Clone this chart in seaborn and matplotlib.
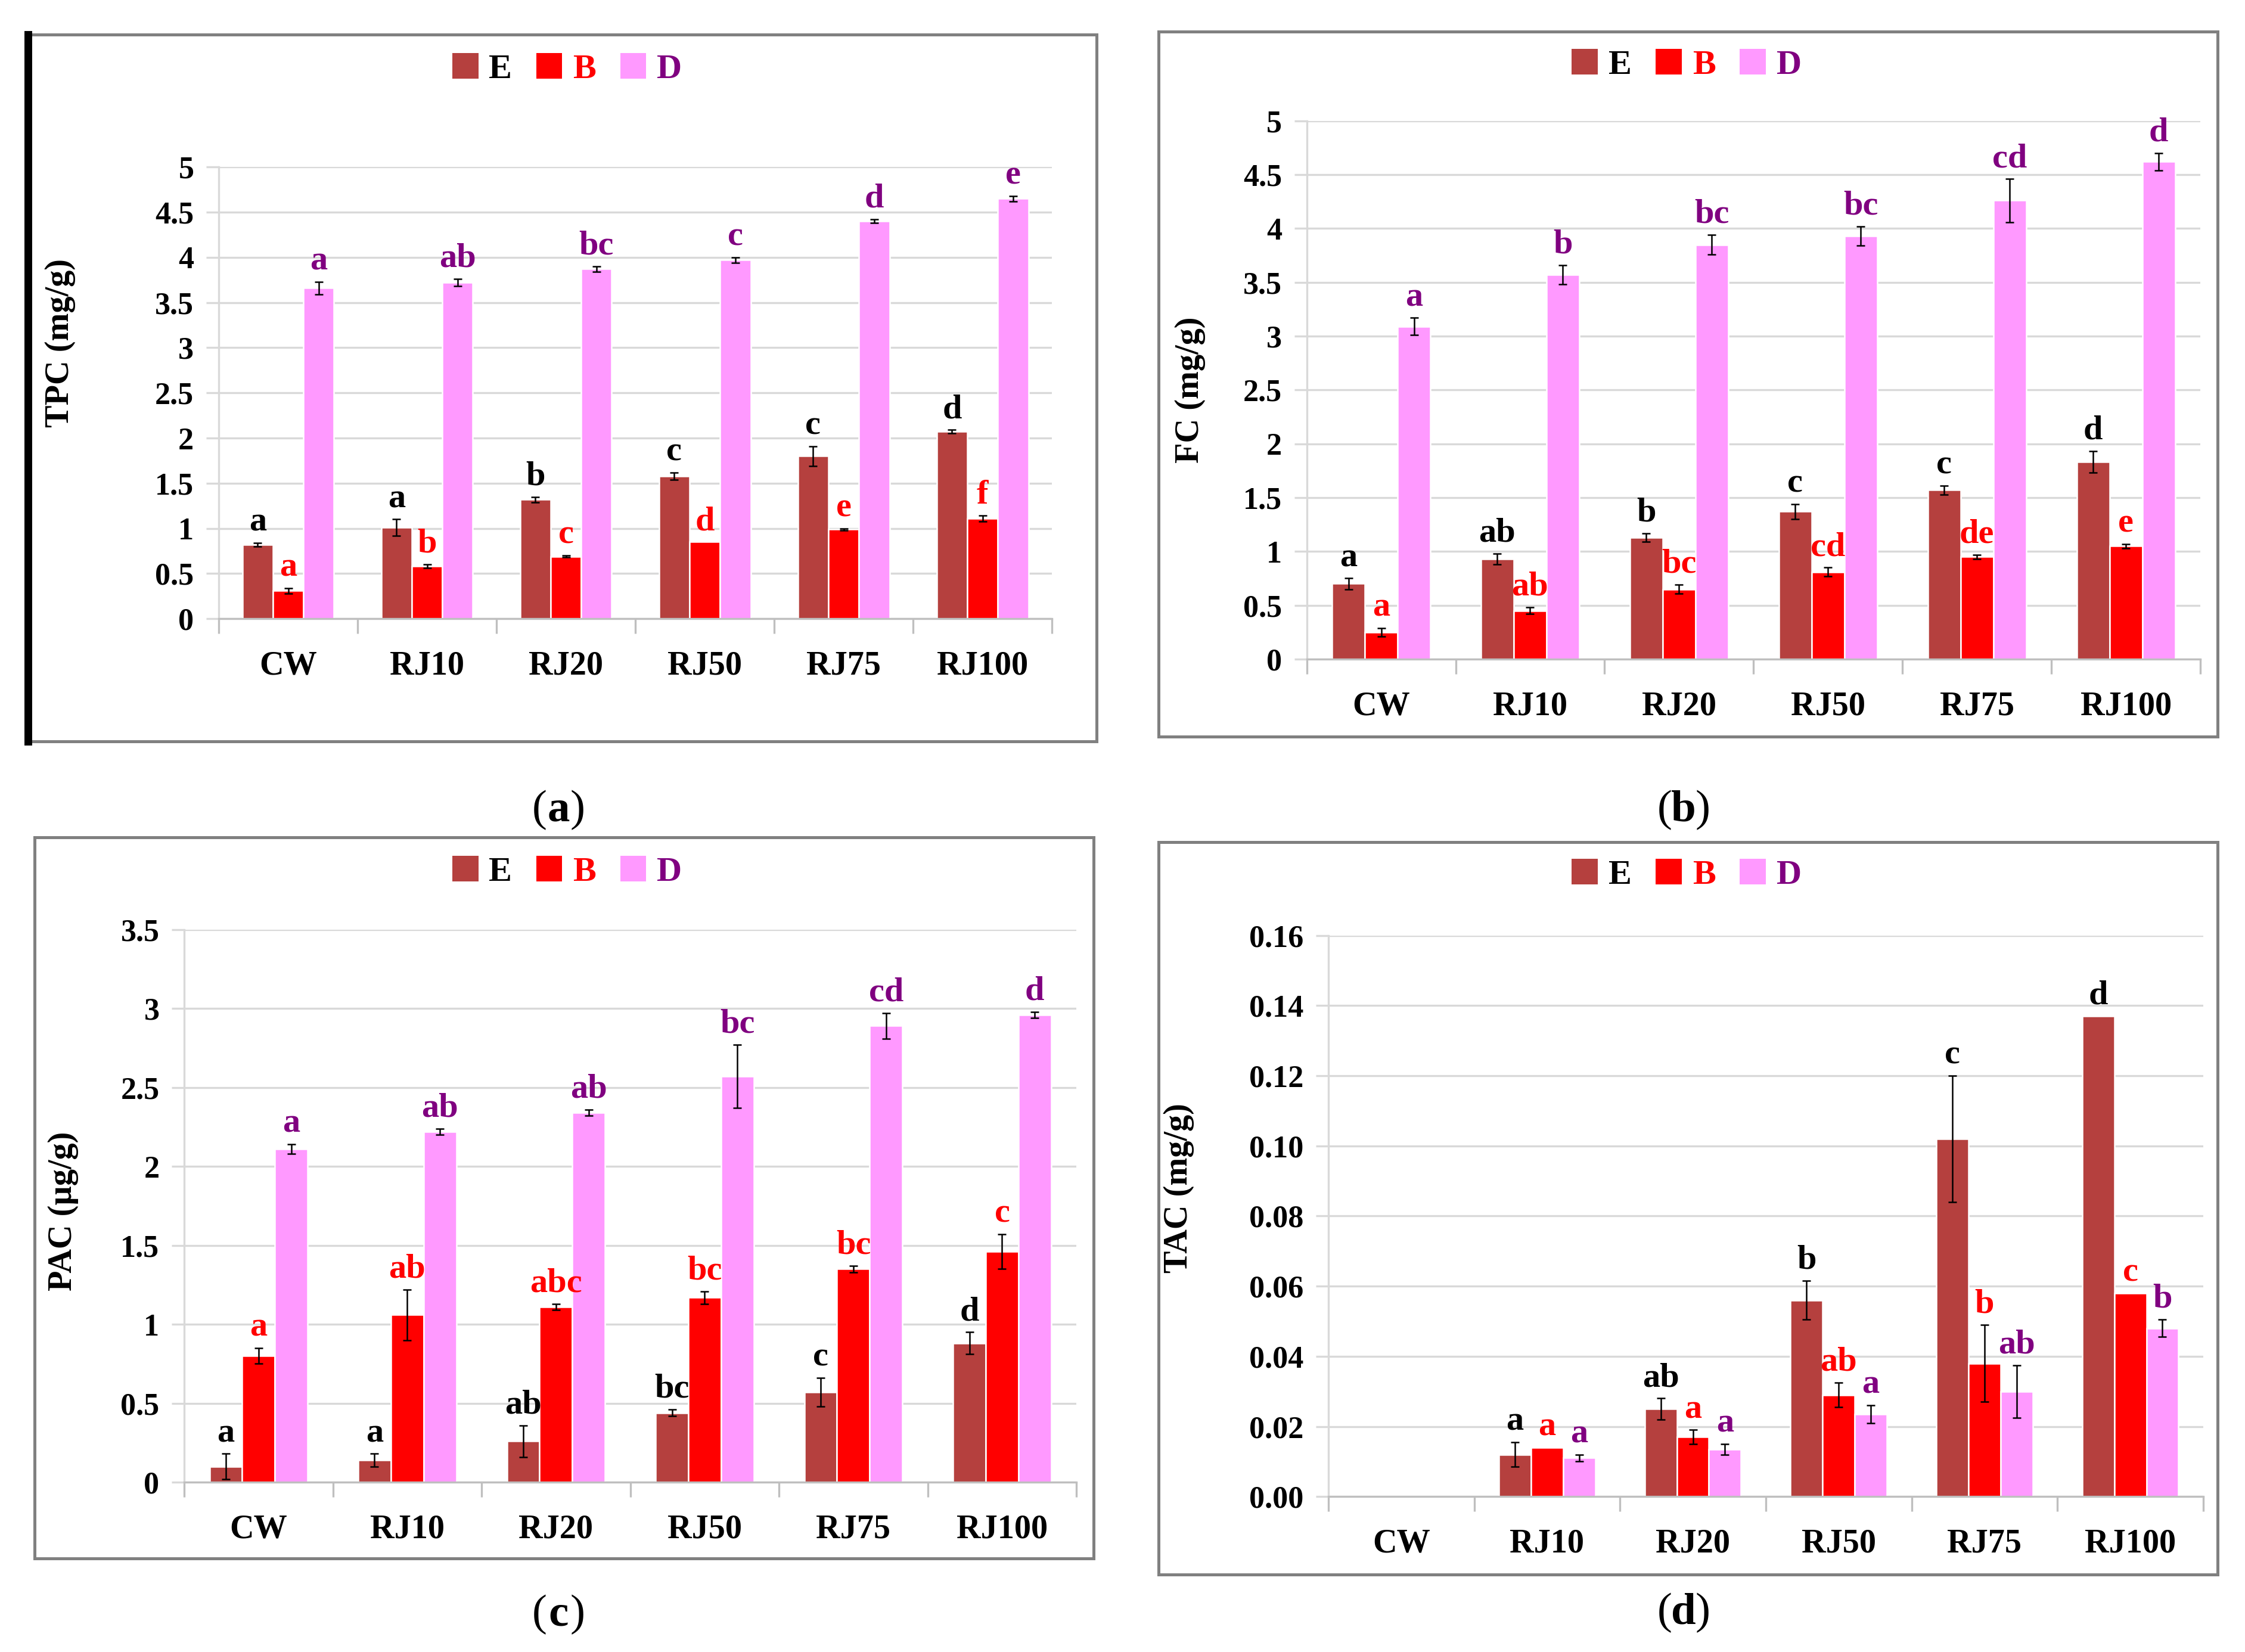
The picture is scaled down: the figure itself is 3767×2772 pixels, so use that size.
import pandas as pd
import seaborn as sns
import matplotlib.pyplot as plt
from matplotlib.patches import Patch, Rectangle
from matplotlib.lines import Line2D
from matplotlib.container import BarContainer
from matplotlib.transforms import ScaledTranslation

# categories and series
samples = ["CW", "RJ10", "RJ20", "RJ50", "RJ75", "RJ100"]
series = ["E", "B", "D"]

# (a) TPC
tpc_E = [0.82, 1.01, 1.32, 1.58, 1.80, 2.07]
tpc_B = [0.31, 0.58, 0.69, 0.85, 0.99, 1.11]
tpc_D = [3.66, 3.72, 3.87, 3.97, 4.40, 4.65]
tpc_E_err = [0.02, 0.09, 0.03, 0.04, 0.11, 0.02]
tpc_B_err = [0.03, 0.02, 0.01, 0.0, 0.01, 0.03]
tpc_D_err = [0.07, 0.04, 0.03, 0.03, 0.02, 0.03]
tpc_E_let = ["a", "a", "b", "c", "c", "d"]
tpc_B_let = ["a", "b", "c", "d", "e", "f"]
tpc_D_let = ["a", "ab", "bc", "c", "d", "e"]

# (b) FC
fc_E = [0.70, 0.93, 1.13, 1.37, 1.57, 1.83]
fc_B = [0.25, 0.45, 0.65, 0.81, 0.95, 1.05]
fc_D = [3.09, 3.57, 3.85, 3.93, 4.26, 4.62]
fc_E_err = [0.05, 0.05, 0.04, 0.07, 0.04, 0.10]
fc_B_err = [0.04, 0.03, 0.04, 0.04, 0.02, 0.02]
fc_D_err = [0.08, 0.09, 0.09, 0.09, 0.20, 0.08]
fc_E_let = ["a", "ab", "b", "c", "c", "d"]
fc_B_let = ["a", "ab", "bc", "cd", "de", "e"]
fc_D_let = ["a", "b", "bc", "bc", "cd", "d"]

# (c) PAC
pac_E = [0.10, 0.14, 0.26, 0.44, 0.57, 0.88]
pac_B = [0.80, 1.06, 1.11, 1.17, 1.35, 1.46]
pac_D = [2.11, 2.22, 2.34, 2.57, 2.89, 2.96]
pac_E_err = [0.08, 0.04, 0.10, 0.02, 0.09, 0.07]
pac_B_err = [0.05, 0.16, 0.02, 0.04, 0.02, 0.11]
pac_D_err = [0.03, 0.02, 0.02, 0.20, 0.08, 0.02]
pac_E_let = ["a", "a", "ab", "bc", "c", "d"]
pac_B_let = ["a", "ab", "abc", "bc", "bc", "c"]
pac_D_let = ["a", "ab", "ab", "bc", "cd", "d"]

# (d) TAC
tac_E = [0.0, 0.012, 0.025, 0.056, 0.102, 0.137]
tac_B = [0.0, 0.014, 0.017, 0.029, 0.038, 0.058]
tac_D = [0.0, 0.011, 0.0135, 0.0235, 0.030, 0.048]
tac_E_err = [0.0, 0.0035, 0.003, 0.0055, 0.018, 0.0]
tac_B_err = [0.0, 0.0, 0.002, 0.0035, 0.011, 0.0]
tac_D_err = [0.0, 0.001, 0.0015, 0.0025, 0.0075, 0.0025]
tac_E_let = ["", "a", "ab", "b", "c", "d"]
tac_B_let = ["", "a", "a", "ab", "b", "c"]
tac_D_let = ["", "a", "a", "a", "ab", "b"]

bar_colors = ["#B5403E", "#FF0000", "#FF99FF"]
text_colors = ["black", "#FF0000", "#800080"]

W, H = 1560.0, 1148.0  # layout reference units

plt.rcParams["font.family"] = ["Liberation Serif", "DejaVu Serif"]
plt.rcParams["font.weight"] = "bold"

fig = plt.figure(figsize=(3767 / 300, 2772 / 300), dpi=300)


def fx(x):
    return x / W


def fy(y):
    return 1 - y / H


def panel(box, frame, vals, errs, lets, ymax, ystep, ylabel, lab_xy, leg_xy, tag, tag_xy, fmt=None):
    left, right, top, bottom = box
    ax = fig.add_axes([fx(left), fy(bottom), fx(right) - fx(left), fy(top) - fy(bottom)])
    df = pd.DataFrame({
        "sample": samples * 3,
        "series": [s for s in series for _ in samples],
        "value": vals[0] + vals[1] + vals[2],
    })
    sns.barplot(data=df, x="sample", y="value", hue="series", order=samples, hue_order=series,
                palette=bar_colors, width=0.66, gap=0, saturation=1, edgecolor="white",
                linewidth=0.6, errorbar=None, legend=False, ax=ax)
    bars = [c for c in ax.containers if isinstance(c, BarContainer)]
    for k, cont in enumerate(bars):
        for i, bar in enumerate(cont):
            xc = bar.get_x() + bar.get_width() / 2
            v = vals[k][i]
            e = errs[k][i]
            if e > 0:
                ax.errorbar(xc, v, yerr=e, fmt="none", ecolor="black", elinewidth=0.6,
                            capsize=1.6, capthick=0.6, zorder=5)
            if lets[k][i]:
                ax.annotate(lets[k][i], xy=(xc, v + e), xytext=(0, 2.0), textcoords="offset points",
                            ha="center", va="bottom", fontsize=14, fontweight="bold",
                            color=text_colors[k], zorder=6)
    ax.set_xlim(-0.5, 5.5)
    ax.set_ylim(0, ymax)
    ticks = [ystep * j for j in range(int(round(ymax / ystep)) + 1)]
    ax.set_yticks(ticks)
    if fmt:
        ax.set_yticklabels([fmt.format(t) for t in ticks])
    else:
        ax.set_yticklabels(["{:g}".format(round(t, 2)) for t in ticks])
    ax.set_xticks([j - 0.5 for j in range(7)])
    ax.set_xticklabels([])
    ax.tick_params(axis="x", length=6, color="#BFBFBF", width=0.8)
    ax.tick_params(axis="y", length=5, color="#D9D9D9", width=0.8, pad=5, labelsize=12.5)
    for lbl in ax.get_yticklabels():
        lbl.set_fontweight("bold")
    for i, s in enumerate(samples):
        ax.annotate(s, xy=(i, 0), xycoords=("data", "axes fraction"), xytext=(0, -19),
                    textcoords="offset points", ha="center", va="center", fontsize=13.5,
                    fontweight="bold")
    ax.yaxis.grid(True, color="#D9D9D9", linewidth=0.8)
    ax.set_axisbelow(True)
    for sp in ["top", "right"]:
        ax.spines[sp].set_visible(False)
    ax.spines["left"].set_color("#D9D9D9")
    ax.spines["bottom"].set_color("#BFBFBF")
    ax.spines["left"].set_linewidth(0.8)
    ax.spines["bottom"].set_linewidth(0.8)
    ax.set_xlabel("")
    ax.set_ylabel(ylabel, fontsize=13.5, fontweight="bold")
    ax.yaxis.set_label_coords(*lab_xy)

    handles = [Patch(facecolor=c, edgecolor="none") for c in bar_colors]
    leg = fig.legend(handles, series, loc="center", bbox_to_anchor=(fx(leg_xy[0]), fy(leg_xy[1])),
                     ncol=3, frameon=False, handlelength=0.75, handleheight=0.75,
                     handletextpad=0.3, columnspacing=0.7, prop={"size": 14, "weight": "bold"})
    for t, c in zip(leg.get_texts(), text_colors):
        t.set_color(c)

    fl, fr, ft, fb = frame
    fig.patches.append(Rectangle((fx(fl), fy(fb)), fx(fr) - fx(fl), fy(ft) - fy(fb),
                                 transform=fig.transFigure, fill=False, edgecolor="#808080",
                                 linewidth=1.2))

    tx, ty = tag_xy
    fig.text(fx(tx), fy(ty), tag, ha="center", va="center", fontsize=18, fontweight="bold")
    fig.text(fx(tx), fy(ty), "(", ha="right", va="center", fontsize=18, fontweight="normal",
             transform=fig.transFigure + ScaledTranslation(-4.6 / 72, 0, fig.dpi_scale_trans))
    fig.text(fx(tx), fy(ty), ")", ha="left", va="center", fontsize=18, fontweight="normal",
             transform=fig.transFigure + ScaledTranslation(4.6 / 72, 0, fig.dpi_scale_trans))
    return ax


panel((152, 731, 116, 430), (18, 762, 24, 515),
      [tpc_E, tpc_B, tpc_D], [tpc_E_err, tpc_B_err, tpc_D_err], [tpc_E_let, tpc_B_let, tpc_D_let],
      5, 0.5, "TPC (mg/g)", (-0.172, 0.61), (394, 48), "a", (388, 563))
panel((908, 1529, 84, 458), (805, 1541, 22, 512),
      [fc_E, fc_B, fc_D], [fc_E_err, fc_B_err, fc_D_err], [fc_E_let, fc_B_let, fc_D_let],
      5, 0.5, "FC (mg/g)", (-0.113, 0.50), (1172, 45), "b", (1170, 563))
panel((128, 748, 646, 1030), (24, 760, 582, 1083),
      [pac_E, pac_B, pac_D], [pac_E_err, pac_B_err, pac_D_err], [pac_E_let, pac_B_let, pac_D_let],
      3.5, 0.5, "PAC (\u00b5g/g)", (-0.118, 0.49), (394, 606), "c", (388, 1122))
panel((923, 1531, 650, 1040), (805, 1541, 585, 1094),
      [tac_E, tac_B, tac_D], [tac_E_err, tac_B_err, tac_D_err], [tac_E_let, tac_B_let, tac_D_let],
      0.16, 0.02, "TAC (mg/g)", (-0.153, 0.55), (1172, 608), "d", (1170, 1121), fmt="{:.2f}")

# thick dark edge on the left of panel (a)
fig.add_artist(Line2D([fx(19.5), fx(19.5)], [fy(24), fy(515)], transform=fig.transFigure,
                      color="black", linewidth=3.1))

fig.savefig("out.png", dpi=300, facecolor="white")
